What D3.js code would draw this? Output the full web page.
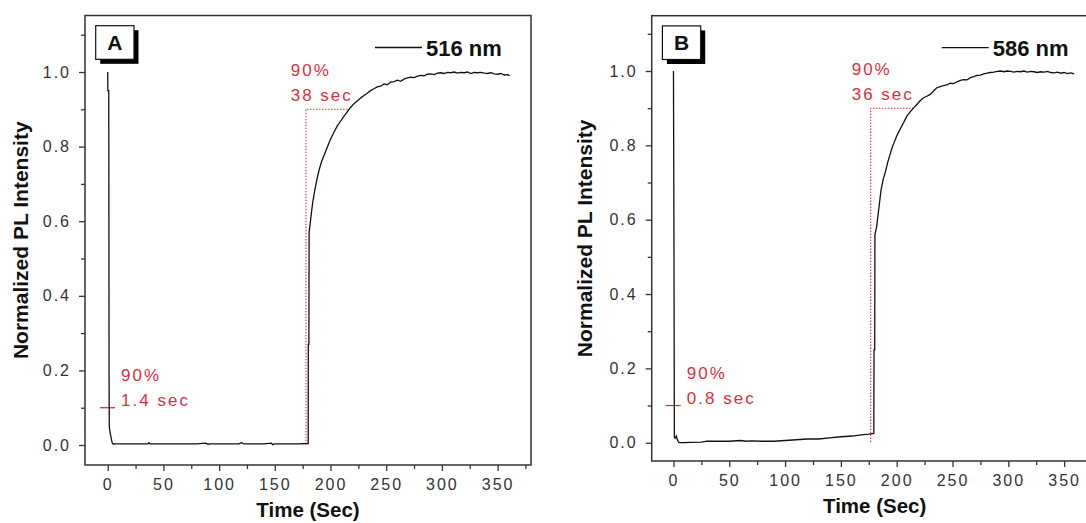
<!DOCTYPE html>
<html>
<head>
<meta charset="utf-8">
<script src="https://cdn.jsdelivr.net/npm/d3@7"></script>
<style>
  body { margin: 0; background: #fff; }
  svg { display: block; font-family: Arial, "Liberation Sans", sans-serif; }
</style>
</head>
<body>
<div id="vis"></div>
<script>
const WIDTH = 1086;
const HEIGHT = 523;

// tick values
const X_TICKS = [0, 50, 100, 150, 200, 250, 300, 350];
const X_MINOR = [25, 75, 125, 175, 225, 275, 325, 375];
const Y_TICKS = [0.0, 0.2, 0.4, 0.6, 0.8, 1.0];
const Y_MINOR = [0.1, 0.3, 0.5, 0.7, 0.9, 1.1];

// panel A - 516 nm (time in sec, normalized intensity)
const timeA = [0, 0.1, 0.9, 1.0, 1.2, 1.4, 2.0, 3.0, 4.0, 5.0, 6.0, 10, 20, 30, 36, 37, 38, 50, 60, 70, 80, 88, 90, 92, 100, 110, 118, 120, 122, 130, 140, 147, 148, 150, 160, 170, 179.7,
  180.0, 180.1, 180.6, 180.8, 182, 184, 186, 188, 190, 192, 194, 196, 198, 200, 203, 206, 209, 212, 215, 218, 221, 224, 227, 230,
  233, 236, 239, 242, 245, 248, 251, 254, 257, 260, 263, 266, 269, 272, 275, 278, 281, 284, 287, 290, 293, 296, 299, 302, 305,
  308, 311, 314, 317, 320, 323, 326, 329, 332, 335, 338, 341, 344, 347, 350, 353, 356, 359, 361];
const intensityA = [1.0, 0.95, 0.95, 0.8, 0.2, 0.05, 0.036, 0.02, 0.006, 0.002, 0.003, 0.003, 0.003, 0.003, 0.003, 0.006, 0.003, 0.003, 0.003, 0.003, 0.003, 0.005, 0.002, 0.003, 0.003, 0.003, 0.003, 0.006, 0.003, 0.003, 0.003, 0.005, 0.001, 0.003, 0.003, 0.003, 0.004,
  0.004, 0.27, 0.27, 0.57, 0.60, 0.65, 0.685, 0.715, 0.74, 0.76, 0.775, 0.79, 0.805, 0.82, 0.838, 0.855, 0.868, 0.881, 0.893, 0.905, 0.915, 0.922, 0.93, 0.937,
  0.943, 0.95, 0.955, 0.96, 0.962, 0.968, 0.966, 0.973, 0.974, 0.978, 0.975, 0.981, 0.984, 0.986, 0.985, 0.989, 0.991, 0.99, 0.994, 0.995, 0.993, 0.997, 0.998, 0.996, 0.999,
  0.998, 1.0, 0.997, 0.999, 0.998, 1.0, 0.996, 0.999, 0.998, 0.999, 0.997, 0.996, 0.998, 0.995, 0.994, 0.996, 0.992, 0.993, 0.99];

// panel B - 586 nm
const timeB = [0, 0.4, 0.8, 1.5, 2.5, 3.0, 4.0, 5.0, 10, 15, 25, 30, 40, 50, 60, 65, 70, 80, 90, 100, 110, 120, 130, 140, 150, 160, 170, 175, 179.5,
  179.7, 180.3, 180.5, 182, 184, 186, 188, 190, 192, 194, 196, 198, 200, 203, 206, 209, 212, 215, 218, 221, 224, 227, 230,
  233, 236, 239, 242, 245, 248, 251, 254, 257, 260, 263, 266, 269, 272, 275, 278, 281, 284, 287, 290, 293, 296, 299, 302, 305,
  308, 311, 314, 317, 320, 323, 326, 329, 332, 335, 338, 341, 344, 347, 350, 353, 356, 359];
const intensityB = [1.0, 0.6, 0.015, 0.012, 0.018, 0.012, 0.005, 0.0, 0.0, 0.001, 0.0015, 0.004, 0.004, 0.004, 0.006, 0.004, 0.005, 0.004, 0.004, 0.006, 0.008, 0.01, 0.01, 0.013, 0.016, 0.018, 0.022, 0.023, 0.025,
  0.25, 0.25, 0.56, 0.58, 0.63, 0.68, 0.71, 0.73, 0.755, 0.775, 0.795, 0.81, 0.825, 0.843, 0.86, 0.878, 0.89, 0.9, 0.91, 0.92, 0.928, 0.932, 0.937,
  0.946, 0.955, 0.958, 0.961, 0.963, 0.967, 0.966, 0.971, 0.975, 0.977, 0.976, 0.982, 0.985, 0.988, 0.989, 0.992, 0.994, 0.996, 0.997, 0.999, 1.0, 0.998, 1.0, 0.999, 0.997,
  0.999, 0.998, 1.0, 0.997, 0.999, 0.998, 0.996, 0.998, 0.997, 0.999, 0.996, 0.995, 0.997, 0.994, 0.996, 0.993, 0.995, 0.992];

// annotations
const panelLetters = ["A", "B"];
const legendLabels = ["516 nm", "586 nm"];
const fallTimes = ["1.4 sec", "0.8 sec"];
const riseTimes = ["38 sec", "36 sec"];
const riseStart = [178, 176.7];
const riseEnd = [217.6, 215.5];

const RED = "#dc2f3b";
const AXIS = "#333";

const PANELS = [
  { left: 85, right: 531, top: 15.5, bottom: 465, xDomain: [-20.4, 380], yDomain: [-0.0536, 1.1515],
    time: timeA, values: intensityA, titleX: 21, riseText: 164.3, fallText: 12 },
  { left: 651.7, right: 1097.6, top: 15.7, bottom: 461, xDomain: [-19.5, 380], yDomain: [-0.0492, 1.1488],
    time: timeB, values: intensityB, titleX: 585, riseText: 159.7, fallText: 12 }
];

const svg = d3.select("#vis").append("svg")
  .attr("width", WIDTH)
  .attr("height", HEIGHT);

function styleAxis(sel) {
  sel.select(".domain").remove();
  sel.selectAll(".tick line").attr("stroke", AXIS).attr("stroke-width", 1.3);
  sel.selectAll(".tick text")
    .attr("fill", "#333")
    .style("font-size", "16px")
    .style("letter-spacing", "2px");
}

function drawPanel(p, i) {
  const X_SCALE = d3.scaleLinear().domain(p.xDomain).range([p.left, p.right]);
  const Y_SCALE = d3.scaleLinear().domain(p.yDomain).range([p.bottom, p.top]);
  const g = svg.append("g");

  // ticks
  g.append("g").attr("transform", `translate(${p.left},0)`)
    .call(d3.axisLeft(Y_SCALE).tickValues(Y_MINOR).tickSize(4).tickFormat(""))
    .call(styleAxis);
  g.append("g").attr("transform", `translate(${p.left},0)`)
    .call(d3.axisLeft(Y_SCALE).tickValues(Y_TICKS).tickSize(6).tickPadding(8).tickFormat(d3.format(".1f")))
    .call(styleAxis);
  g.append("g").attr("transform", `translate(0,${p.bottom})`)
    .call(d3.axisBottom(X_SCALE).tickValues(X_MINOR).tickSize(4).tickFormat(""))
    .call(styleAxis);
  g.append("g").attr("transform", `translate(0,${p.bottom})`)
    .call(d3.axisBottom(X_SCALE).tickValues(X_TICKS).tickSize(6).tickPadding(8))
    .call(styleAxis);

  // frame
  g.append("rect")
    .attr("x", p.left).attr("y", p.top)
    .attr("width", p.right - p.left).attr("height", p.bottom - p.top)
    .attr("fill", "none").attr("stroke", AXIS).attr("stroke-width", 1.5);

  // axis titles
  const midY = (p.top + p.bottom) / 2;
  g.append("text")
    .attr("transform", `translate(${p.titleX},${midY}) rotate(-90)`)
    .attr("text-anchor", "middle")
    .attr("dy", "0.35em")
    .style("font-size", "21px").style("font-weight", "bold").attr("fill", "#111")
    .text("Normalized PL Intensity");
  g.append("text")
    .attr("x", (p.left + p.right) / 2).attr("y", p.bottom + 52)
    .attr("text-anchor", "middle")
    .style("font-size", "20.5px").style("font-weight", "bold").attr("fill", "#111")
    .text("Time (Sec)");

  // red markers
  g.append("line")
    .attr("x1", X_SCALE(-7)).attr("x2", X_SCALE(6.5))
    .attr("y1", Y_SCALE(0.1)).attr("y2", Y_SCALE(0.1))
    .attr("stroke", RED).attr("stroke-width", 1.3);
  g.append("path")
    .attr("d", d3.line()([
      [X_SCALE(riseStart[i]), Y_SCALE(0.002)],
      [X_SCALE(riseStart[i]), Y_SCALE(0.9)],
      [X_SCALE(riseEnd[i]), Y_SCALE(0.9)]
    ]))
    .attr("fill", "none").attr("stroke", RED).attr("stroke-width", 1.1)
    .attr("stroke-dasharray", "1.5,1.5");

  // data line
  const points = p.time.map((t, k) => [t, p.values[k]]);
  g.append("path")
    .datum(points)
    .attr("d", d3.line().x(d => X_SCALE(d[0])).y(d => Y_SCALE(d[1])))
    .attr("fill", "none").attr("stroke", "#111").attr("stroke-width", 1.3);

  // red labels
  const redText = (x, y, s) => g.append("text")
    .attr("x", x).attr("y", y)
    .attr("fill", RED)
    .style("font-size", "17px").style("letter-spacing", "2px")
    .text(s);
  redText(X_SCALE(p.riseText), Y_SCALE(0.9) - 33, "90%");
  redText(X_SCALE(p.riseText), Y_SCALE(0.9) - 8, riseTimes[i]);
  redText(X_SCALE(p.fallText), Y_SCALE(0.1) - 27, "90%");
  redText(X_SCALE(p.fallText), Y_SCALE(0.1) - 2, fallTimes[i]);

  // panel letter box with shadow
  const bx = p.left + 10.7, by = p.top + 10.2, bw = 38.3, bh = 33.6;
  g.append("rect").attr("x", bx + 4.5).attr("y", by + 4.5).attr("width", bw).attr("height", bh).attr("fill", "#000");
  g.append("rect").attr("x", bx).attr("y", by).attr("width", bw).attr("height", bh)
    .attr("fill", "#fff").attr("stroke", "#111").attr("stroke-width", 1.2);
  g.append("text")
    .attr("x", bx + bw / 2).attr("y", by + bh / 2 + 7.5)
    .attr("text-anchor", "middle")
    .style("font-size", "21px").style("font-weight", "bold").attr("fill", "#111")
    .text(panelLetters[i]);

  // legend
  g.append("line")
    .attr("x1", p.left + 290).attr("x2", p.left + 337)
    .attr("y1", p.top + 32).attr("y2", p.top + 32)
    .attr("stroke", "#111").attr("stroke-width", 1.3);
  g.append("text")
    .attr("x", p.left + 341).attr("y", p.top + 40.5)
    .style("font-size", "22px").style("font-weight", "bold").attr("fill", "#111")
    .text(legendLabels[i]);
}

PANELS.forEach(drawPanel);
</script>
</body>
</html>
